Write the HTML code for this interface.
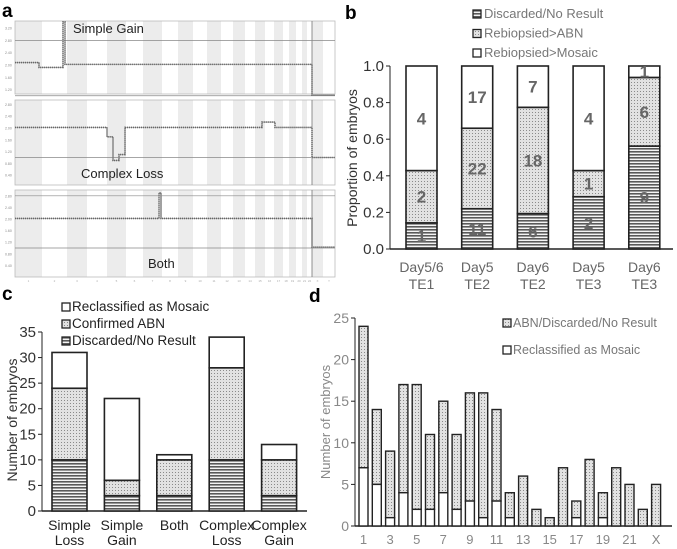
<!DOCTYPE html>
<html><head><meta charset="utf-8"><style>
body{margin:0;background:#fff;}
svg{display:block;font-family:"Liberation Sans",Arial,sans-serif;}
</style></head><body>
<svg id="fig" width="677" height="549" viewBox="0 0 677 549" xmlns="http://www.w3.org/2000/svg">
<defs>
<pattern id="hstripe" width="4" height="3" patternUnits="userSpaceOnUse"><rect width="4" height="3" fill="#f4f4f4"/><rect y="1" width="4" height="1.6" fill="#5a5a5a"/></pattern>
<pattern id="dots" width="3" height="3" patternUnits="userSpaceOnUse"><rect width="3" height="3" fill="#e2e2e2"/><rect x="1" y="1" width="1" height="1" fill="#8a8a8a"/></pattern>
</defs>
<text x="2" y="17" font-size="19" font-weight="bold">a</text>
<text x="345" y="19" font-size="19" font-weight="bold">b</text>
<text x="2" y="300" font-size="19" font-weight="bold">c</text>
<text x="309" y="302" font-size="19" font-weight="bold">d</text>
<g id="pa"></g>
<g id="pb"></g>
<g id="pc"></g>
<g id="pd"></g>
</svg>
<script>
// ---------- Panel b data ----------
const bCategories = [["Day5/6","TE1"],["Day5","TE2"],["Day6","TE2"],["Day5","TE3"],["Day6","TE3"]];
const bDiscarded = [1,11,6,2,9];
const bAbn = [2,22,18,1,6];
const bMosaic = [4,17,7,4,1];
const bTicks = ["0.0","0.2","0.4","0.6","0.8","1.0"];
// ---------- Panel c data ----------
const cCategories = [["Simple","Loss"],["Simple","Gain"],["Both",""],["Complex","Loss"],["Complex","Gain"]];
const cDiscarded = [10,3,3,10,3];
const cAbn = [14,3,7,18,7];
const cMosaic = [7,16,1,6,3];
const cTicks = [0,5,10,15,20,25,30,35];
// ---------- Panel d data ----------
const dCategories = ["1","2","3","4","5","6","7","8","9","10","11","12","13","14","15","16","17","18","19","20","21","22","X"];
const dTotal = [24,14,9,17,17,11,15,11,16,16,14,4,6,2,1,7,3,8,4,7,5,2,5];
const dMosaic = [7,5,1,4,2,2,4,2,3,1,3,1,0,0,0,0,1,0,1,0,0,0,0];
const dTicks = [0,5,10,15,20,25];
// ---------- Panel a segments (x px, x px, copy number) ----------
const chrBounds = [15,42,67,87,107,126,143,162,178,193,207,221,233,245,255,265,274,283,289,296,302,307,312,323,335];
const aSeg1 = [[15,39,2.08],[39,63,1.92],[63,65,3.4],[65,312,2.02],[312,335,1.02]];
const aSeg2 = [[15,107,2.02],[107,113,1.7],[113,119,0.9],[119,125,1.1],[125,262,2.02],[262,275,2.2],[275,312,2.02],[312,335,1.0]];
const aSeg3 = [[15,159,2.02],[159,161,2.9],[161,312,2.02],[312,335,1.03]];

const NS="http://www.w3.org/2000/svg";
function mk(parent,tag,attrs,txt){const e=document.createElementNS(NS,tag);for(const k in attrs)e.setAttribute(k,attrs[k]);if(txt!==undefined)e.textContent=txt;parent.appendChild(e);return e;}

// ---- Panel a ----
(function(){
  const g=document.getElementById('pa');
  const panels=[
    {top:21,bot:94,y0:65,v0:2.0,pxPer:30.75,ref:[2.8,1.0],segs:aSeg1,ticks:["3.20","2.80","2.40","2.00","1.60","1.20"],tickv:[3.2,2.8,2.4,2.0,1.6,1.2],label:"Simple Gain",lx:73,ly:33},
    {top:100,bot:185,y0:128,v0:2.0,pxPer:29.5,ref:[1.0],segs:aSeg2,ticks:["2.80","2.40","2.00","1.60","1.20","0.80","0.40"],tickv:[2.8,2.4,2.0,1.6,1.2,0.8,0.4],label:"Complex Loss",lx:81,ly:178},
    {top:190,bot:277,y0:219,v0:2.0,pxPer:29,ref:[2.8,1.0],segs:aSeg3,ticks:["2.80","2.40","2.00","1.60","1.20","0.80","0.40"],tickv:[2.8,2.4,2.0,1.6,1.2,0.8,0.4],label:"Both",lx:148,ly:268}
  ];
  panels.forEach((p,pi)=>{
    const sg=mk(g,'g',{});
    
    
    const Y=v=>p.y0-(v-p.v0)*p.pxPer;
    for(let i=0;i<chrBounds.length-1;i+=2){
      const r=mk(sg,'rect',{x:chrBounds[i],y:p.top,width:chrBounds[i+1]-chrBounds[i],height:p.bot-p.top,fill:'#ececec'});
      
      
    }
    mk(sg,'rect',{x:15,y:p.top,width:320,height:p.bot-p.top,fill:'none',stroke:'#bbb','stroke-width':0.8});
    mk(sg,'line',{x1:312,x2:312,y1:p.top,y2:p.bot,stroke:'#777','stroke-width':0.8});
    p.ref.forEach(v=>mk(sg,'line',{x1:15,x2:335,y1:Y(v),y2:Y(v),stroke:'#888','stroke-width':0.7}));
    p.tickv.forEach((v,i)=>{const y=Y(v);if(y>p.top&&y<p.bot)mk(sg,'text',{x:5,y:y+1.5,'font-size':3.5,fill:'#888'},p.ticks[i]);});
    let d='';p.segs.forEach((s,i)=>{d+=(i?'L':'M')+s[0]+' '+Y(s[2])+' L'+s[1]+' '+Y(s[2])+' ';});
    mk(sg,'path',{d:d,fill:'none',stroke:'#bbb','stroke-width':0.8});
    const tr=mk(sg,'path',{d:d,fill:'none',stroke:'#666','stroke-width':1.6,'stroke-dasharray':'1.2 0.8'});
    
    
    const t=mk(sg,'text',{x:p.lx,y:p.ly,'font-size':13,fill:'#222'},p.label);
    
    
  });
  for(let i=0;i<chrBounds.length-1;i++){mk(g,'text',{x:(chrBounds[i]+chrBounds[i+1])/2,y:282,'font-size':3,fill:'#aaa','text-anchor':'middle'},i<22?String(i+1):(i==22?'X':'Y'));}
})();

function stackedPanel(g,o){
  const Y=v=>o.y0-(v/o.max)*(o.y0-o.yTop);
  mk(g,'line',{x1:o.axX,x2:o.axX,y1:o.yTop,y2:o.y0,stroke:'#222','stroke-width':1});
  mk(g,'line',{x1:o.axX,x2:o.axEnd,y1:o.y0,y2:o.y0,stroke:'#222','stroke-width':1.5});
  o.tickVals.forEach((v,i)=>{
    mk(g,'line',{x1:o.axX-4,x2:o.axX,y1:Y(v),y2:Y(v),stroke:'#222'});
    const t=mk(g,'text',{x:o.axX-6,y:Y(v)+5,'font-size':o.tickFs,fill:o.tickCol,'text-anchor':'end'},o.tickLabels[i]);
    
    
  });
  const yt=mk(g,'text',{x:o.ytX,y:o.ytY,'font-size':o.ytFs,fill:o.tickCol,'text-anchor':'middle',transform:`rotate(-90 ${o.ytX} ${o.ytY})`},o.ytitle);
  
  
  return Y;
}

// ---- Panel b ----
(function(){
  const g=document.getElementById('pb');
  const Y=stackedPanel(g,{y0:249,yTop:66,max:1,axX:390,axEnd:673,tickVals:[0,0.2,0.4,0.6,0.8,1.0],tickLabels:bTicks,tickFs:15,tickCol:'#333',ytX:357,ytY:158,ytFs:14,ytitle:'Proportion of embryos'});
  const fills=['url(#hstripe)','url(#dots)','#fff'];
  bCategories.forEach((c,i)=>{
    const tot=bDiscarded[i]+bAbn[i]+bMosaic[i];
    const vals=[bDiscarded[i],bAbn[i],bMosaic[i]];
    const x=406+i*55.7, w=31;
    let acc=0;
    vals.forEach((v,j)=>{
      const y1=Y(acc/tot), y2=Y((acc+v)/tot);
      const r=mk(g,'rect',{x:x,y:y2,width:w,height:y1-y2,fill:fills[j],stroke:'#222','stroke-width':1.6});
      
      
      const lt=mk(g,'text',{x:x+w/2,y:(y1+y2)/2+6,'font-size':17,'font-weight':'bold',fill:'#666','text-anchor':'middle'},String(v));
      
      
      acc+=v;
    });
    c.forEach((s,k)=>{const t=mk(g,'text',{x:x+w/2,y:272+k*17,'font-size':14,fill:'#666','text-anchor':'middle'},s);
      
      });
  });
  const leg=['Discarded/No Result','Rebiopsied>ABN','Rebiopsied>Mosaic'];
  leg.forEach((s,j)=>{const y=18+j*19.5;
    const e=mk(g,'g',{});
    
    
    mk(e,'rect',{x:473,y:y-8,width:8,height:8,fill:fills[j],stroke:'#222','stroke-width':1.3});
    mk(e,'text',{x:484,y:y,'font-size':13,fill:'#777'},s);});
})();

// ---- Panel c ----
(function(){
  const g=document.getElementById('pc');
  const Y=stackedPanel(g,{y0:511,yTop:332,max:35,axX:42,axEnd:307,tickVals:cTicks,tickLabels:cTicks.map(String),tickFs:15,tickCol:'#333',ytX:17,ytY:420,ytFs:14,ytitle:'Number of embryos'});
  const fills=['url(#hstripe)','url(#dots)','#fff'];
  cCategories.forEach((c,i)=>{
    const vals=[cDiscarded[i],cAbn[i],cMosaic[i]];
    const x=52+i*52.4,w=35;let acc=0;
    vals.forEach((v,j)=>{const y1=Y(acc),y2=Y(acc+v);
      const r=mk(g,'rect',{x:x,y:y2,width:w,height:y1-y2,fill:fills[j],stroke:'#222','stroke-width':1.6});
      
      
      acc+=v;});
    c.forEach((s,k)=>{const t=mk(g,'text',{x:x+w/2,y:530+k*15,'font-size':14,fill:'#222','text-anchor':'middle'},s);
      
      });
  });
  const leg=[['Reclassified as Mosaic','#fff'],['Confirmed ABN','url(#dots)'],['Discarded/No Result','url(#hstripe)']];
  leg.forEach((l,j)=>{const y=311+j*17;
    const e=mk(g,'g',{});
    
    
    mk(e,'rect',{x:62,y:y-8,width:8,height:8,fill:l[1],stroke:'#222','stroke-width':1.3});
    mk(e,'text',{x:72,y:y,'font-size':13.5,fill:'#222'},l[0]);});
})();

// ---- Panel d ----
(function(){
  const g=document.getElementById('pd');
  const Y=stackedPanel(g,{y0:526,yTop:318,max:25,axX:355,axEnd:672,tickVals:dTicks,tickLabels:dTicks.map(String),tickFs:14,tickCol:'#888',ytX:330,ytY:422,ytFs:13,ytitle:'Number of embryos'});
  dCategories.forEach((c,i)=>{
    const x=359+i*13.3,w=9;
    const r1=mk(g,'rect',{x:x,y:Y(dTotal[i]),width:w,height:Y(dMosaic[i])-Y(dTotal[i]),fill:'url(#dots)',stroke:'#222','stroke-width':1.4});
    
    
    if(dMosaic[i]>0){const r2=mk(g,'rect',{x:x,y:Y(dMosaic[i]),width:w,height:Y(0)-Y(dMosaic[i]),fill:'#fff',stroke:'#222','stroke-width':1.4});
      
      }
    if(i%2==0){const t=mk(g,'text',{x:x+w/2,y:544,'font-size':13,fill:'#888','text-anchor':'middle'},c);
      
      }
  });
  const leg=[['ABN/Discarded/No Result','url(#dots)'],['Reclassified as Mosaic','#fff']];
  leg.forEach((l,j)=>{const y=327+j*27;
    const e=mk(g,'g',{});
    
    
    mk(e,'rect',{x:503,y:y-8,width:8,height:8,fill:l[1],stroke:'#222','stroke-width':1.3});
    mk(e,'text',{x:513,y:y,'font-size':12.5,fill:'#777'},l[0]);});
})();
</script>
</body></html>
